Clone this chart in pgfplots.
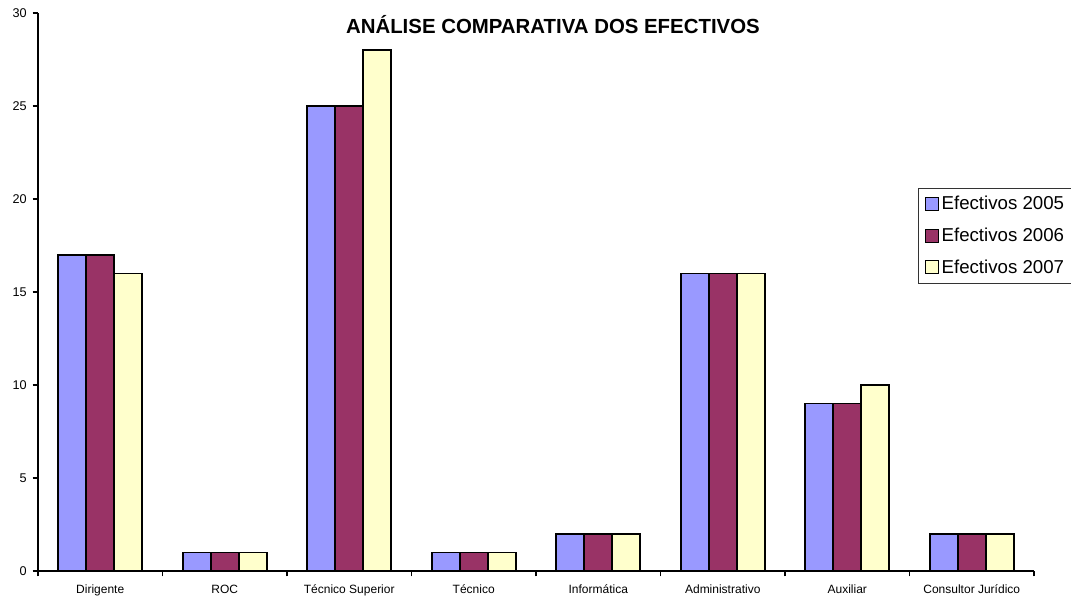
\documentclass[border=0pt]{standalone}
\usepackage{fontspec}
\setmainfont{Liberation Sans}
\usepackage{pgfplots}
\pgfplotsset{compat=1.18}
\definecolor{ef2005}{HTML}{9999FF}
\definecolor{ef2006}{HTML}{993366}
\definecolor{ef2007}{HTML}{FFFFCC}

\begin{document}
\begin{tikzpicture}[x=0.75pt,y=0.75pt]
% page = 1071 x 597 px, axis box starts at (38,571) px from top-left
\useasboundingbox (-38,-26) rectangle (1033,571);
\clip (-38,-26) rectangle (1033,571);
\begin{axis}[
    at={(0,0)}, anchor=south west,
    scale only axis,
    width=747pt, height=418.5pt,
    ybar=0pt,
    bar width=0.225,
    xmin=-0.5, xmax=7.5,
    ymin=0, ymax=30,
    ytick={0,5,...,30},
    xtick={-0.5,0.5,...,7.5},
    x tick label as interval,
    xticklabels={Dirigente,ROC,Técnico Superior,Técnico,Informática,Administrativo,Auxiliar,Consultor Jurídico},
    axis lines=left,
    axis line style={-, line width=0.8pt},
    tick align=outside,
    major tick length=4pt,
    tick style={black, line width=0.8pt},
    /pgf/number format/assume math mode=true,
    yticklabel style={font=\fontsize{9.5}{11}\selectfont, xshift=-1pt},
    xticklabel style={font=\fontsize{9}{10}\selectfont, yshift=-3pt},
    title={ANÁLISE COMPARATIVA DOS EFECTIVOS},
    title style={at={(0.517,0.9795)}, anchor=center, yshift=-6pt,
        font=\bfseries\fontsize{15.3}{18}\selectfont},
    legend style={
        at={(0.8835,0.6864)}, anchor=north west,
        draw=black!80, line width=0.7pt,
        font=\fontsize{14}{16}\selectfont,
        row sep=8pt, inner xsep=5pt, inner ysep=4pt,
        cells={anchor=west},
    },
    legend image code/.code={\draw[#1, line width=0.8pt] (0pt,-4.8pt) rectangle (9.6pt,4.8pt);},
]
\addplot[fill=ef2005, draw=black, line width=1.3pt] coordinates {
    (0,17) (1,1) (2,25) (3,1) (4,2) (5,16) (6,9) (7,2)};
\addlegendentry{Efectivos 2005}
\addplot[fill=ef2006, draw=black, line width=1.3pt] coordinates {
    (0,17) (1,1) (2,25) (3,1) (4,2) (5,16) (6,9) (7,2)};
\addlegendentry{Efectivos 2006}
\addplot[fill=ef2007, draw=black, line width=1.3pt] coordinates {
    (0,16) (1,1) (2,28) (3,1) (4,2) (5,16) (6,10) (7,2)};
\addlegendentry{Efectivos 2007}
\end{axis}
\end{tikzpicture}
\end{document}
